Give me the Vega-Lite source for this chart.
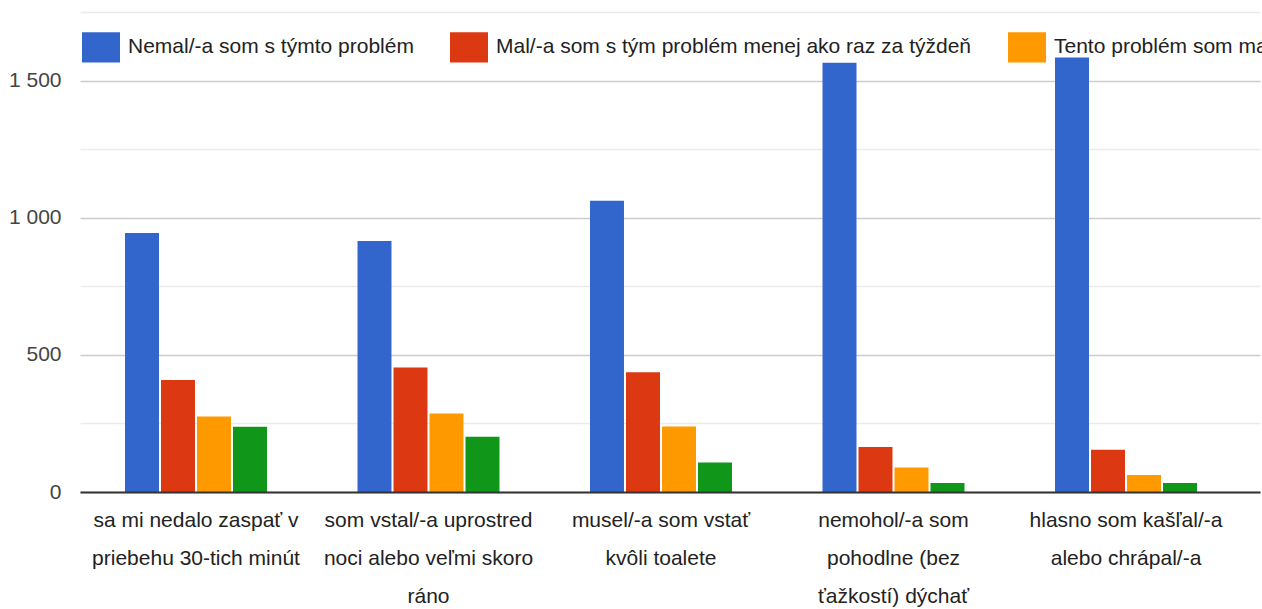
{
  "$schema": "https://vega.github.io/schema/vega-lite/v6.json",
  "width": 1180,
  "height": 480,
  "autosize": {"type": "none"},
  "padding": {"left": 80, "top": 12, "right": 2, "bottom": 117},
  "background": "white",
  "config": {"view": {"stroke": null}, "font": "Liberation Sans"},
  "data": {
    "values": [
      {"category": "sa mi nedalo zaspať v priebehu 30-tich minút", "series": "Nemal/-a som s týmto problém", "value": 944},
      {"category": "sa mi nedalo zaspať v priebehu 30-tich minút", "series": "Mal/-a som s tým problém menej ako raz za týždeň", "value": 408},
      {"category": "sa mi nedalo zaspať v priebehu 30-tich minút", "series": "Tento problém som mal/-a raz alebo dvakrát za týždeň", "value": 275},
      {"category": "sa mi nedalo zaspať v priebehu 30-tich minút", "series": "Tento problém som mal/-a trikrát alebo viackrát za týždeň", "value": 238},
      {"category": "som vstal/-a uprostred noci alebo veľmi skoro ráno", "series": "Nemal/-a som s týmto problém", "value": 915},
      {"category": "som vstal/-a uprostred noci alebo veľmi skoro ráno", "series": "Mal/-a som s tým problém menej ako raz za týždeň", "value": 454},
      {"category": "som vstal/-a uprostred noci alebo veľmi skoro ráno", "series": "Tento problém som mal/-a raz alebo dvakrát za týždeň", "value": 286},
      {"category": "som vstal/-a uprostred noci alebo veľmi skoro ráno", "series": "Tento problém som mal/-a trikrát alebo viackrát za týždeň", "value": 201},
      {"category": "musel/-a som vstať kvôli toalete", "series": "Nemal/-a som s týmto problém", "value": 1062},
      {"category": "musel/-a som vstať kvôli toalete", "series": "Mal/-a som s tým problém menej ako raz za týždeň", "value": 437},
      {"category": "musel/-a som vstať kvôli toalete", "series": "Tento problém som mal/-a raz alebo dvakrát za týždeň", "value": 239},
      {"category": "musel/-a som vstať kvôli toalete", "series": "Tento problém som mal/-a trikrát alebo viackrát za týždeň", "value": 108},
      {"category": "nemohol/-a som pohodlne (bez ťažkostí) dýchať", "series": "Nemal/-a som s týmto problém", "value": 1565},
      {"category": "nemohol/-a som pohodlne (bez ťažkostí) dýchať", "series": "Mal/-a som s tým problém menej ako raz za týždeň", "value": 164},
      {"category": "nemohol/-a som pohodlne (bez ťažkostí) dýchať", "series": "Tento problém som mal/-a raz alebo dvakrát za týždeň", "value": 89},
      {"category": "nemohol/-a som pohodlne (bez ťažkostí) dýchať", "series": "Tento problém som mal/-a trikrát alebo viackrát za týždeň", "value": 33},
      {"category": "hlasno som kašľal/-a alebo chrápal/-a", "series": "Nemal/-a som s týmto problém", "value": 1584},
      {"category": "hlasno som kašľal/-a alebo chrápal/-a", "series": "Mal/-a som s tým problém menej ako raz za týždeň", "value": 154},
      {"category": "hlasno som kašľal/-a alebo chrápal/-a", "series": "Tento problém som mal/-a raz alebo dvakrát za týždeň", "value": 62},
      {"category": "hlasno som kašľal/-a alebo chrápal/-a", "series": "Tento problém som mal/-a trikrát alebo viackrát za týždeň", "value": 33}
    ]
  },
  "mark": {"type": "bar"},
  "encoding": {
    "x": {
      "field": "category",
      "type": "nominal",
      "sort": null,
      "scale": {"paddingInner": 0.0796, "paddingOuter": 0.0774, "align": 0.25},
      "axis": {
        "title": null,
        "ticks": false,
        "domainColor": "#333333",
        "domainWidth": 2,
        "zindex": 1,
        "labelAngle": 0,
        "labelFontSize": 21,
        "labelColor": "#222222",
        "labelPadding": 17,
        "labelLineHeight": 38,
        "labelLimit": 500,
        "labelExpr": "datum.value == 'sa mi nedalo zaspať v priebehu 30-tich minút' ? ['sa mi nedalo zaspať v', 'priebehu 30-tich minút'] : datum.value == 'som vstal/-a uprostred noci alebo veľmi skoro ráno' ? ['som vstal/-a uprostred', 'noci alebo veľmi skoro', 'ráno'] : datum.value == 'musel/-a som vstať kvôli toalete' ? ['musel/-a som vstať', 'kvôli toalete'] : datum.value == 'nemohol/-a som pohodlne (bez ťažkostí) dýchať' ? ['nemohol/-a som', 'pohodlne (bez', 'ťažkostí) dýchať'] : ['hlasno som kašľal/-a', 'alebo chrápal/-a']"
      }
    },
    "xOffset": {
      "field": "series",
      "type": "nominal",
      "sort": ["Nemal/-a som s týmto problém", "Mal/-a som s tým problém menej ako raz za týždeň", "Tento problém som mal/-a raz alebo dvakrát za týždeň", "Tento problém som mal/-a trikrát alebo viackrát za týždeň"],
      "scale": {"paddingInner": 0.056, "paddingOuter": 1}
    },
    "y": {
      "field": "value",
      "type": "quantitative",
      "scale": {"domain": [0, 1750], "nice": false},
      "axis": {
        "title": null,
        "values": [0, 250, 500, 750, 1000, 1250, 1500, 1750],
        "labelExpr": "datum.value % 500 == 0 ? replace(format(datum.value, ','), ',', ' ') : ''",
        "ticks": false,
        "domain": false,
        "gridColor": {"condition": {"test": "datum.value % 500 == 0", "value": "#cccccc"}, "value": "#ebebeb"},
        "gridWidth": 1.5,
        "labelFontSize": 21,
        "labelColor": "#444444",
        "labelPadding": 19
      }
    },
    "color": {
      "field": "series",
      "type": "nominal",
      "sort": ["Nemal/-a som s týmto problém", "Mal/-a som s tým problém menej ako raz za týždeň", "Tento problém som mal/-a raz alebo dvakrát za týždeň", "Tento problém som mal/-a trikrát alebo viackrát za týždeň"],
      "scale": {"range": ["#3366cc", "#dc3912", "#ff9900", "#109618"]},
      "legend": {
        "orient": "none",
        "legendX": 2,
        "legendY": 16,
        "direction": "horizontal",
        "columns": 4,
        "title": null,
        "symbolType": "M-1,-0.8H1V0.8H-1Z",
        "symbolSize": 1444,
        "symbolStrokeWidth": 0,
        "labelFontSize": 21,
        "labelColor": "#222222",
        "labelOffset": 8,
        "columnPadding": 36,
        "labelLimit": 1000
      }
    }
  }
}
